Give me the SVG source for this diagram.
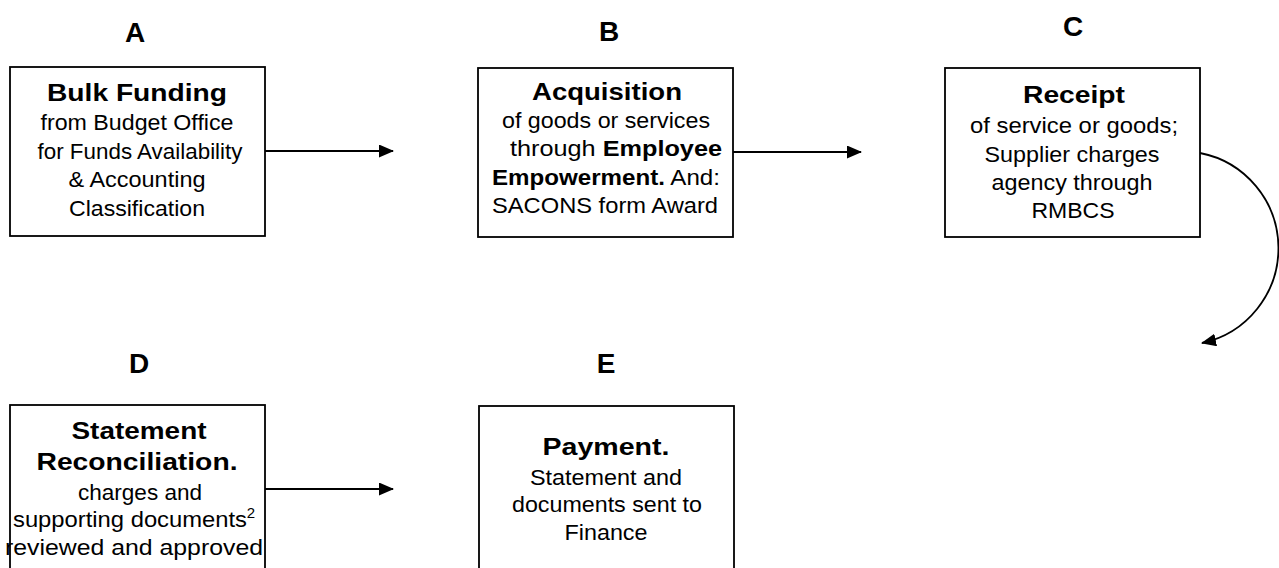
<svg xmlns="http://www.w3.org/2000/svg" width="1279" height="568" viewBox="0 0 1279 568">
<defs>
<style>
.box{fill:#fff;stroke:#000;stroke-width:1.8}
.t{font-family:"Liberation Sans",Arial,sans-serif;fill:#000;text-anchor:middle}
.h{font-size:24px;font-weight:bold}
.b{font-size:22px}
.L{font-size:28px;font-weight:bold}
.bo{font-weight:bold}
.c{fill:none;stroke:#000;stroke-width:1.8}
</style>
<marker id="ah" markerUnits="userSpaceOnUse" markerWidth="16" markerHeight="14" refX="14" refY="6.5" orient="auto">
<path d="M0,0 L15,6.5 L0,13 z" fill="#000"/>
</marker>
</defs>
<rect width="1279" height="568" fill="#fff"/>
<g id="connectors">
<path class="c" d="M265,151 H393" marker-end="url(#ah)"/>
<path class="c" d="M733,152 H861" marker-end="url(#ah)"/>
<path class="c" d="M1200,153 A97,97 0 0 1 1202,343" marker-end="url(#ah)"/>
<path class="c" d="M265,489 H393" marker-end="url(#ah)"/>
</g>
<g id="nodeA">
<text class="t L" x="135" y="42">A</text>
<rect class="box" x="10" y="67" width="255" height="169"/>
<text class="t h" x="137" y="101" textLength="180" lengthAdjust="spacingAndGlyphs">Bulk Funding</text>
<text class="t b" x="137" y="130" textLength="193" lengthAdjust="spacingAndGlyphs">from Budget Office</text>
<text class="t b" x="140" y="159" textLength="205" lengthAdjust="spacingAndGlyphs">for Funds Availability</text>
<text class="t b" x="137" y="187" textLength="137" lengthAdjust="spacingAndGlyphs">&amp; Accounting</text>
<text class="t b" x="137" y="216" textLength="136" lengthAdjust="spacingAndGlyphs">Classification</text>
</g>
<g id="nodeB">
<text class="t L" x="609" y="41">B</text>
<rect class="box" x="478" y="68" width="255" height="169"/>
<text class="t h" x="607" y="100" textLength="150" lengthAdjust="spacingAndGlyphs">Acquisition</text>
<text class="t b" x="606" y="128" textLength="208" lengthAdjust="spacingAndGlyphs">of goods or services</text>
<text class="t b" x="616" y="156" textLength="212" lengthAdjust="spacingAndGlyphs">through <tspan class="bo">Employee</tspan></text>
<text class="t b" x="606" y="185" textLength="228" lengthAdjust="spacingAndGlyphs"><tspan class="bo">Empowerment.</tspan> And:</text>
<text class="t b" x="605" y="213" textLength="226" lengthAdjust="spacingAndGlyphs">SACONS form Award</text>
</g>
<g id="nodeC">
<text class="t L" x="1073" y="36">C</text>
<rect class="box" x="945" y="68" width="255" height="169"/>
<text class="t h" x="1074" y="103" textLength="102" lengthAdjust="spacingAndGlyphs">Receipt</text>
<text class="t b" x="1074" y="133" textLength="208" lengthAdjust="spacingAndGlyphs">of service or goods;</text>
<text class="t b" x="1072" y="162" textLength="175" lengthAdjust="spacingAndGlyphs">Supplier charges</text>
<text class="t b" x="1072" y="190" textLength="161" lengthAdjust="spacingAndGlyphs">agency through</text>
<text class="t b" x="1073" y="218" textLength="83" lengthAdjust="spacingAndGlyphs">RMBCS</text>
</g>
<g id="nodeD">
<text class="t L" x="139" y="373">D</text>
<rect class="box" x="10" y="405" width="255" height="180"/>
<text class="t h" x="139" y="439" textLength="135" lengthAdjust="spacingAndGlyphs">Statement</text>
<text class="t h" x="137" y="470" textLength="201" lengthAdjust="spacingAndGlyphs">Reconciliation.</text>
<text class="t b" x="140" y="500" textLength="124" lengthAdjust="spacingAndGlyphs">charges and</text>
<text class="t b" x="130" y="527" textLength="234" lengthAdjust="spacingAndGlyphs">supporting documents</text>
<text class="t" x="251" y="518" font-size="15">2</text>
<text class="t b" x="134" y="555" textLength="258" lengthAdjust="spacingAndGlyphs">reviewed and approved</text>
</g>
<g id="nodeE">
<text class="t L" x="606" y="373">E</text>
<rect class="box" x="479" y="406" width="255" height="180"/>
<text class="t h" x="606" y="455" textLength="127" lengthAdjust="spacingAndGlyphs">Payment.</text>
<text class="t b" x="606" y="485" textLength="152" lengthAdjust="spacingAndGlyphs">Statement and</text>
<text class="t b" x="607" y="512" textLength="190" lengthAdjust="spacingAndGlyphs">documents sent to</text>
<text class="t b" x="606" y="540" textLength="83" lengthAdjust="spacingAndGlyphs">Finance</text>
</g>
</svg>
